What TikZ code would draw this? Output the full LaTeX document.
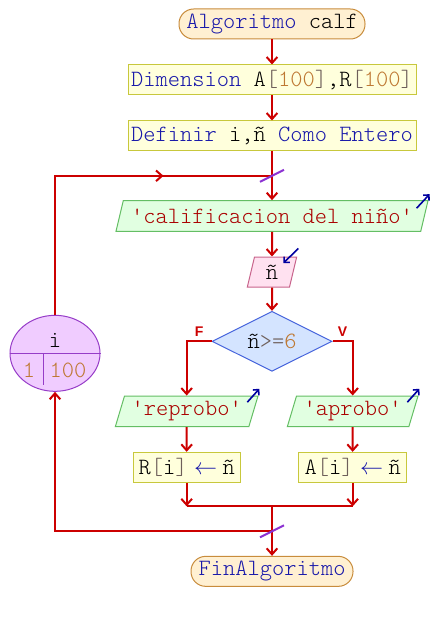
\documentclass[tikz,border=0pt]{standalone}
\usepackage{fontspec}
\newfontfamily\etiqfont{Liberation Sans}
\newfontfamily\codfont{Latin Modern Mono Light}
\usepackage{xcolor}
\usetikzlibrary{arrows.meta}
\usetikzlibrary{shapes.geometric}
\usetikzlibrary{calc}

\definecolor{rojo}{RGB}{204,0,0}
\definecolor{kwcol}{RGB}{25,25,170}
\definecolor{numcol}{RGB}{190,120,50}
\definecolor{brcol}{RGB}{110,95,90}
\definecolor{strcol}{RGB}{170,0,0}
\definecolor{termborde}{RGB}{200,140,60}
\definecolor{termfondo}{RGB}{255,240,210}
\definecolor{procborde}{RGB}{200,200,60}
\definecolor{procfondo}{RGB}{255,255,220}
\definecolor{salborde}{RGB}{100,190,100}
\definecolor{salfondo}{RGB}{225,255,225}
\definecolor{entborde}{RGB}{200,100,140}
\definecolor{entfondo}{RGB}{255,225,240}
\definecolor{decborde}{RGB}{70,100,220}
\definecolor{decfondo}{RGB}{212,228,255}
\definecolor{cicborde}{RGB}{150,60,200}
\definecolor{cicfondo}{RGB}{240,204,255}
\definecolor{cruzcol}{RGB}{140,50,210}
\definecolor{marcacol}{RGB}{0,0,160}

\newcommand{\kw}[1]{\textcolor{kwcol}{#1}}
\newcommand{\nm}[1]{\textcolor{numcol}{#1}}
\newcommand{\brk}[1]{\textcolor{brcol}{#1}}
\newcommand{\cad}[1]{\textcolor{strcol}{#1}}
\newcommand{\asig}{\textcolor{kwcol}{$\leftarrow$}}

\begin{document}
\begin{tikzpicture}[node distance=42pt,
    texto/.style = {font=\codfont\fontsize{17.5pt}{20pt}\selectfont},
    base/.style = {texto, draw, line width=0.75pt, inner sep=2pt},
    term/.style = {base, rectangle, rounded corners=11pt,
                   draw=termborde, fill=termfondo, minimum height=22.5pt},
    proc/.style = {base, rectangle, draw=procborde, fill=procfondo,
                   minimum height=22.5pt},
    salida/.style = {base, trapezium, trapezium left angle=70,
                     trapezium right angle=110, trapezium stretches body,
                     draw=salborde, fill=salfondo, minimum height=23pt},
    entrada/.style = {salida, draw=entborde, fill=entfondo},
    decision/.style = {base, diamond, aspect=2, inner sep=0pt,
                       draw=decborde, fill=decfondo,
                       minimum width=90pt, minimum height=45pt},
    ciclo/.style = {ellipse, draw=cicborde, fill=cicfondo, line width=0.75pt,
                    minimum width=67.5pt, minimum height=57pt},
    flujo/.style = {-{Straight Barb[length=4.5pt,width=8pt]}, draw=rojo,
                    line width=1.5pt},
    linea/.style = {draw=rojo, line width=1.5pt},
    cruce/.style = {draw=cruzcol, line width=1.5pt},
    marca/.style = {-{Straight Barb[length=3pt,width=6pt]}, draw=marcacol,
                    line width=1.2pt},
    etiq/.style = {font=\etiqfont\bfseries\fontsize{10.5pt}{12pt}\selectfont,
                   text=rojo, inner sep=1pt}]
  \useasboundingbox (0,0) rectangle (324pt,-465pt);

  \node (inicio) [term, minimum width=139.5pt] at (204pt,-18pt) {\kw{Algoritmo} calf};
  \node (dim) [proc, minimum width=216pt, below of=inicio]
    {\kw{Dimension} A\brk{[}\nm{100}\brk{]},R\brk{[}\nm{100}\brk{]}};
  \node (def) [proc, minimum width=216pt, below of=dim] {\kw{Definir} i,ñ \kw{Como Entero}};
  \node (leer) [salida, minimum width=234pt, below of=def, node distance=60pt]
    {\cad{\textquotesingle calificacion del niño\textquotesingle}};
  \node (nn) [entrada, minimum width=37pt, minimum height=22.5pt, below of=leer] {ñ};
  \node (cond) [decision, below of=nn, node distance=52pt] {ñ\brk{>=}\nm{6}};
  \node (repr) [salida, minimum width=107pt, below of=cond, node distance=52.5pt,
                xshift=-64pt] {\cad{\textquotesingle reprobo\textquotesingle}};
  \node (apro) [salida, minimum width=98pt, below of=cond, node distance=52.5pt,
                xshift=60.5pt] {\cad{\textquotesingle aprobo\textquotesingle}};
  \node (asigR) [proc, minimum width=80pt, below of=repr]
    {R\brk{[}i\brk{]}\hspace{5pt}\asig\hspace{4pt}ñ};
  \node (asigA) [proc, minimum width=81pt, below of=apro]
    {A\brk{[}i\brk{]}\hspace{5pt}\asig\hspace{4pt}ñ};
  \coordinate[below of=cond, node distance=123.75pt] (une);
  \coordinate[below of=une, node distance=18.75pt] (vuelta);
  \node (fin) [term, minimum width=121.5pt, below of=vuelta, node distance=30pt]
    {\kw{FinAlgoritmo}};
  \coordinate (entra) at ($(def.south)!0.5!(leer.north)$);

  % ciclo para
  \node (para) [ciclo, left of=cond, node distance=162.75pt, yshift=-9pt] {};
  \draw[draw=cicborde, line width=0.75pt] (para.west) -- (para.east);
  \draw[draw=cicborde, line width=0.75pt] ([xshift=-9pt]para.center) -- ++(0,-24pt);
  \node (var) [texto] at ([yshift=10pt]para.center) {i};
  \node (desde) [texto] at ([xshift=-19.5pt,yshift=-12.75pt]para.center) {\nm{1}};
  \node (hasta) [texto] at ([xshift=9.75pt,yshift=-12.75pt]para.center) {\nm{100}};

  \draw[flujo] (inicio) -- (dim);
  \draw[flujo] (dim) -- (def);
  \draw[flujo] (def) -- (leer);
  \draw[flujo] (leer) -- (nn);
  \draw[flujo] (nn) -- (cond);
  \draw[flujo] (cond.west) -| (repr.north) node[etiq, pos=0.25, above=2pt] {F};
  \draw[flujo] (cond.east) -| (apro.north) node[etiq, pos=0.25, above=2pt] {V};
  \draw[flujo] (repr) -- (asigR);
  \draw[flujo] (apro) -- (asigA);
  \draw[flujo] (asigR) -- (asigR |- une);
  \draw[flujo] (asigA) -- (asigA |- une);
  \draw[linea] (asigR |- une) -- (asigA |- une);
  \draw[flujo] (une) -- (fin);
  \draw[flujo] (vuelta) -| (para.south);
  \draw[linea] (para.north) |- (entra);
  \draw[flujo] (para.north |- entra) -- ($(para.north |- entra)!0.5!(entra)$);

  % cruces
  \draw[cruce] ([shift={(-9pt,-4.5pt)}]entra) -- ([shift={(9pt,4.5pt)}]entra);
  \draw[cruce] ([shift={(-9pt,-4.5pt)}]vuelta) -- ([shift={(9pt,4.5pt)}]vuelta);

  % marcas de lectura y escritura
  \draw[marca] ([shift={(-9pt,-6pt)}]leer.top right corner)
    -- ([shift={(0.75pt,4.5pt)}]leer.top right corner);
  \draw[marca] ([shift={(-8.5pt,-5pt)}]repr.top right corner)
    -- ([shift={(0.5pt,5pt)}]repr.top right corner);
  \draw[marca] ([shift={(-8.5pt,-5pt)}]apro.top right corner)
    -- ([shift={(0.5pt,5pt)}]apro.top right corner);
  \draw[marca] ([shift={(0.75pt,6pt)}]nn.top right corner)
    -- ([shift={(-10.5pt,-5pt)}]nn.top right corner);
\end{tikzpicture}
\end{document}
